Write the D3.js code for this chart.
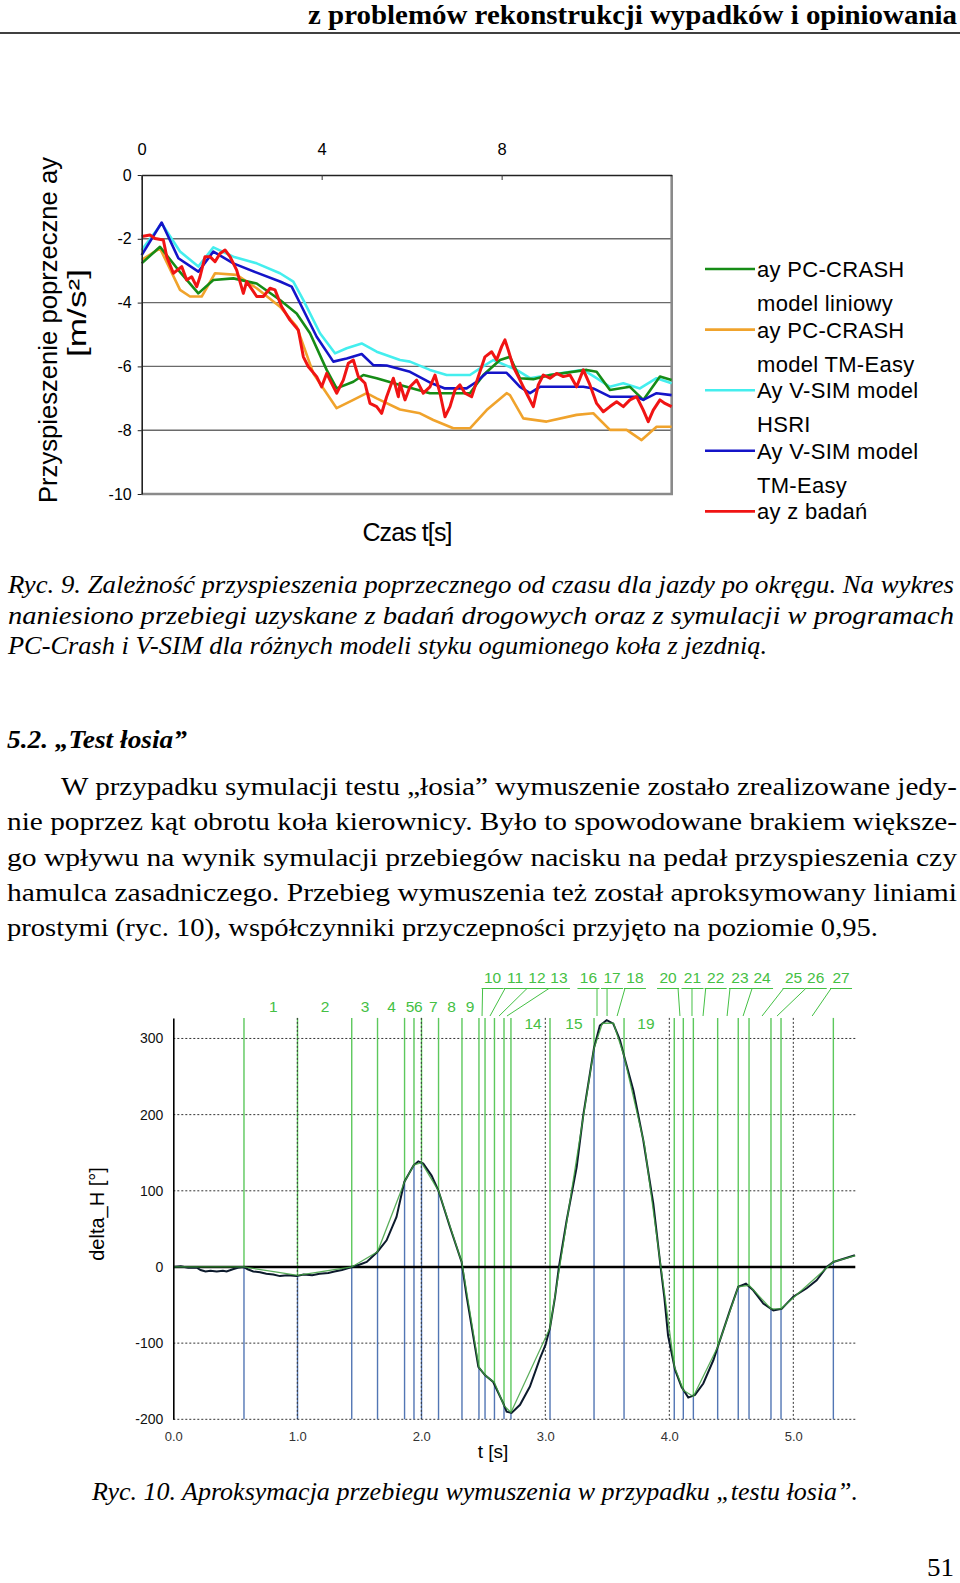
<!DOCTYPE html>
<html>
<head>
<meta charset="utf-8">
<script src="https://cdn.jsdelivr.net/npm/d3@7"></script>
<style>
  body { margin: 0; background: #fff; }
  svg { display: block; }
  .serif { font-family: "Liberation Serif", "Times New Roman", serif; }
  .sans { font-family: "Liberation Sans", Arial, sans-serif; }
</style>
</head>
<body>
<svg id="page" width="960" height="1583"></svg>
<script>
// ---------------- page text ----------------
const headerText = "z problemów rekonstrukcji wypadków i opiniowania"
const caption9 = [
    "Ryc. 9. Zależność przyspieszenia poprzecznego od czasu dla jazdy po okręgu. Na wykres",
    "naniesiono przebiegi uzyskane z badań drogowych oraz z symulacji w programach",
    "PC-Crash i V-SIM dla różnych modeli styku ogumionego koła z jezdnią."
]
const sectionTitle = "5.2. \u201ETest łosia\u201D"
const paragraph = [
    "W przypadku symulacji testu \u201Ełosia\u201D wymuszenie zostało zrealizowane jedy-",
    "nie poprzez kąt obrotu koła kierownicy. Było to spowodowane brakiem większe-",
    "go wpływu na wynik symulacji przebiegów nacisku na pedał przyspieszenia czy",
    "hamulca zasadniczego. Przebieg wymuszenia też został aproksymowany liniami",
    "prostymi (ryc. 10), współczynniki przyczepności przyjęto na poziomie 0,95."
]
const caption10 = "Ryc. 10. Aproksymacja przebiegu wymuszenia w przypadku \u201Etestu łosia\u201D."
const pageNumber = "51"

// ---------------- Ryc. 9 data: [t (s), ay (m/s2)] ----------------
const ayTicksX = [0, 4, 8]
const ayTicksY = [0, -2, -4, -6, -8, -10]

const ayPcLinear = [[0,-2.77],[0.407,-2.25],[0.815,-2.98],[1.259,-3.71],[1.593,-3.29],[2.037,-3.24],[2.556,-3.40],[3.074,-3.92],[3.444,-4.34],[3.741,-4.96],[4.111,-6.11],[4.333,-6.69],[4.704,-6.48],[4.926,-6.27],[5.222,-6.37],[5.741,-6.58],[6.407,-6.84],[7.296,-6.84],[7.593,-6.27],[7.963,-5.80],[8.185,-5.70],[8.407,-6.37],[8.704,-6.40],[9.074,-6.27],[9.889,-6.11],[10.111,-6.17],[10.407,-6.74],[10.852,-6.64],[11.148,-7.05],[11.519,-6.32],[11.778,-6.43]]

const ayPcTmEasy = [[0,-2.66],[0.407,-2.30],[0.852,-3.60],[1.074,-3.81],[1.333,-3.81],[1.630,-3.08],[2.111,-3.13],[2.556,-3.55],[3.074,-4.13],[3.444,-4.75],[3.815,-6.22],[4.333,-7.31],[4.704,-7.05],[5.0,-6.84],[5.222,-7.00],[5.741,-7.35],[6.185,-7.47],[6.481,-7.68],[6.926,-7.94],[7.296,-7.94],[7.667,-7.37],[8.111,-6.84],[8.185,-6.90],[8.481,-7.63],[9.0,-7.73],[9.667,-7.52],[10.037,-7.47],[10.407,-7.99],[10.778,-7.99],[11.111,-8.31],[11.444,-7.89],[11.778,-7.89]]

const ayVsimHsri = [[0,-2.35],[0.444,-1.52],[0.852,-2.40],[1.259,-2.87],[1.593,-2.27],[2.037,-2.56],[2.556,-2.77],[3.074,-3.08],[3.370,-3.34],[3.593,-3.92],[3.963,-4.96],[4.296,-5.59],[4.556,-5.43],[4.889,-5.28],[5.222,-5.54],[5.741,-5.80],[5.963,-5.85],[6.407,-6.11],[6.778,-6.27],[7.296,-6.27],[7.519,-6.06],[7.815,-5.80],[8.333,-6.11],[8.630,-6.37],[8.852,-6.32],[9.815,-6.11],[10.111,-6.37],[10.407,-6.64],[10.704,-6.53],[11.074,-6.69],[11.444,-6.37],[11.778,-6.53]]

const ayVsimTmEasy = [[0,-2.51],[0.444,-1.49],[0.815,-2.61],[1.259,-3.03],[1.593,-2.40],[2.037,-2.77],[2.556,-3.06],[3.074,-3.34],[3.333,-3.50],[3.519,-4.02],[3.889,-5.07],[4.259,-5.85],[4.556,-5.75],[4.889,-5.61],[5.148,-5.96],[5.444,-5.97],[5.963,-6.17],[6.444,-6.53],[6.741,-6.69],[7.222,-6.69],[7.444,-6.48],[7.667,-6.20],[8.111,-6.20],[8.407,-6.64],[8.630,-6.84],[8.852,-6.64],[9.815,-6.64],[10.037,-6.69],[10.407,-6.95],[11.0,-6.95],[11.148,-7.05],[11.444,-6.84],[11.778,-6.90]]

const ayMeasured = [[0,-1.93],[0.185,-1.88],[0.296,-1.99],[0.481,-2.04],[0.556,-2.56],[0.704,-3.08],[0.889,-2.87],[1.0,-3.29],[1.111,-3.19],[1.222,-3.50],[1.296,-3.19],[1.407,-2.56],[1.519,-2.56],[1.630,-2.72],[1.741,-2.46],[1.852,-2.35],[1.963,-2.56],[2.111,-2.98],[2.259,-3.71],[2.333,-3.34],[2.556,-3.81],[2.704,-3.81],[2.852,-3.55],[2.963,-3.60],[3.111,-4.13],[3.296,-4.55],[3.481,-4.86],[3.593,-5.70],[3.704,-6.01],[3.889,-6.32],[4.0,-6.64],[4.111,-6.22],[4.222,-6.53],[4.333,-6.84],[4.481,-6.43],[4.593,-5.90],[4.704,-5.80],[4.815,-6.32],[4.963,-6.53],[5.074,-7.16],[5.222,-7.26],[5.333,-7.47],[5.444,-6.95],[5.593,-6.37],[5.704,-6.95],[5.741,-6.53],[5.852,-7.05],[5.963,-6.64],[6.111,-6.43],[6.259,-6.84],[6.407,-6.64],[6.519,-6.27],[6.630,-6.84],[6.741,-7.58],[6.852,-7.26],[6.963,-6.74],[7.074,-6.58],[7.185,-6.84],[7.333,-6.95],[7.481,-6.32],[7.630,-5.70],[7.778,-5.54],[7.889,-5.80],[8.0,-5.38],[8.074,-5.17],[8.148,-5.49],[8.259,-6.01],[8.370,-6.32],[8.481,-6.64],[8.593,-6.95],[8.704,-7.26],[8.815,-6.58],[8.926,-6.27],[9.074,-6.37],[9.222,-6.22],[9.370,-6.32],[9.519,-6.27],[9.667,-6.64],[9.815,-6.11],[9.963,-6.58],[10.111,-7.16],[10.259,-7.42],[10.407,-7.26],[10.556,-7.11],[10.704,-7.26],[10.852,-7.05],[11.0,-6.95],[11.148,-7.37],[11.259,-7.73],[11.370,-7.37],[11.519,-7.05],[11.630,-7.16],[11.778,-7.26]]

// legend order
const aySeries = [
    { lines: ["ay PC-CRASH", "model liniowy"], color: "#168c16", data: ayPcLinear },
    { lines: ["ay PC-CRASH", "model TM-Easy"], color: "#f0a32c", data: ayPcTmEasy },
    { lines: ["Ay V-SIM model", "HSRI"], color: "#44eeee", data: ayVsimHsri },
    { lines: ["Ay V-SIM model", "TM-Easy"], color: "#1414c8", data: ayVsimTmEasy },
    { lines: ["ay z badań"], color: "#f01414", data: ayMeasured }
]
const drawOrder = [1, 2, 0, 3, 4]

// ---------------- Ryc. 10 data: [t (s), delta_H (deg)] ----------------
const dhTicksX = [0, 1, 2, 3, 4, 5]
const dhTicksY = [300, 200, 100, 0, -100, -200]

const dhMeasured = [[0,0],[0.06,1],[0.12,-1],[0.19,-1],[0.22,-4],[0.26,-6],[0.3,-5],[0.35,-6],[0.4,-5],[0.43,-6],[0.48,-3],[0.52,-1],[0.565,0],[0.6,-3],[0.645,-6],[0.7,-7],[0.75,-9],[0.806,-10],[0.86,-12],[0.92,-11],[0.995,-12],[1.05,-10],[1.12,-11],[1.18,-9],[1.25,-8],[1.3,-6],[1.36,-4],[1.44,0],[1.5,3],[1.56,6.6],[1.645,19.7],[1.72,35],[1.80,65.6],[1.863,111.6],[1.938,133.5],[1.976,138.7],[2.016,135.7],[2.083,120],[2.137,100.7],[2.231,52.5],[2.325,6.6],[2.366,-39],[2.46,-131],[2.513,-142],[2.58,-151],[2.661,-179],[2.688,-190],[2.728,-191.7],[2.796,-181],[2.876,-157],[2.957,-120],[3.0,-103],[3.038,-80],[3.078,-40],[3.11,0],[3.172,61],[3.253,131],[3.306,199],[3.36,254],[3.392,287],[3.44,317],[3.495,324],[3.548,319.5],[3.602,298],[3.637,276],[3.71,232],[3.79,166.5],[3.871,83],[3.93,0],[3.96,-40],[3.99,-90],[4.046,-135],[4.099,-157.5],[4.153,-171.5],[4.207,-168],[4.274,-153],[4.355,-122.5],[4.409,-96],[4.489,-57],[4.556,-26],[4.618,-22],[4.677,-30.6],[4.758,-48],[4.839,-57],[4.906,-55],[5.0,-39],[5.108,-28],[5.188,-17.5],[5.27,0],[5.323,6.6],[5.497,15.3]]

// nodes of the straight-line approximation
const dhApprox = [[0,0],[0.570,0],[1.002,-11],[1.439,0],[1.647,20],[1.865,112],[1.941,134],[2.002,137],[2.139,100],[2.328,5],[2.465,-132],[2.514,-142],[2.590,-152],[2.667,-182],[2.723,-191],[3.038,-80],[3.393,287],[3.46,320],[3.55,320],[3.635,277],[3.80,160],[4.040,-130],[4.113,-162],[4.194,-170],[4.390,-105],[4.556,-26],[4.643,-24],[4.820,-55],[4.901,-55],[5.323,6.6],[5.5,15]]
// nodes whose vertical marker is not visible on the original
const hiddenNodeT = [0, 3.46, 3.55, 3.80, 5.5]

// segment numbers: row 1 has leader lines (label position t, leader target t)
const segRow1 = [["10",2.575,2.490],["11",2.756,2.554],["12",2.933,2.627],["13",3.11,2.691],["16",3.348,3.417],["17",3.538,3.498],["18",3.723,3.579],["20",3.990,4.086],["21",4.187,4.183],["22",4.374,4.272],["23",4.570,4.466],["24",4.748,4.595],["25",5.002,4.748],["26",5.181,4.869],["27",5.385,5.152]]
const segRow2 = [["1",0.806],["2",1.223],["3",1.546],["4",1.761],["5",1.909],["6",1.976],["7",2.097],["8",2.245],["9",2.393]]
const segRow3 = [["14",2.901],["15",3.231],["19",3.812]]

const svg = d3.select("#page")
svg.append("rect").attr("width", 960).attr("height", 1583).attr("fill", "#fff")

// ---------------- page header and text ----------------
svg.append("text").attr("class", "serif")
    .attr("x", 957).attr("y", 24).attr("text-anchor", "end")
    .attr("font-size", 28).attr("font-weight", "bold")
    .attr("textLength", 649).attr("lengthAdjust", "spacingAndGlyphs")
    .text(headerText)
svg.append("line").attr("x1", 0).attr("x2", 960).attr("y1", 33).attr("y2", 33)
    .attr("stroke", "#000").attr("stroke-width", 1.6)

const addLine = (str, x, y, width, opts) => {
    let t = svg.append("text").attr("class", "serif")
        .attr("x", x).attr("y", y).attr("font-size", opts.size || 25)
        .text(str)
    if (opts.italic) t.attr("font-style", "italic")
    if (opts.bold) t.attr("font-weight", "bold")
    if (width) t.attr("textLength", width).attr("lengthAdjust", "spacingAndGlyphs")
    return t
}

const cap9Widths = [946, 946, 759]
caption9.forEach((s, i) => addLine(s, 8, 593 + i * 30.5, cap9Widths[i], { italic: true, size: 25 }))

addLine(sectionTitle, 7, 748, 180, { italic: true, bold: true, size: 25 })

const parX = [61, 7, 7, 7, 7]
const parW = [896, 950, 950, 950, 871]
paragraph.forEach((s, i) => addLine(s, parX[i], 795 + i * 35.3, parW[i], { size: 26 }))

addLine(caption10, 92, 1500, 766, { italic: true, size: 25 })
addLine(pageNumber, 927, 1576, 27, { size: 25 })

// ---------------- Ryc. 9 chart ----------------
const ayX = d3.scaleLinear().domain([0, 11.78]).range([141.7, 671.7])
const ayY = d3.scaleLinear().domain([-10, 0]).range([494, 175])

const g9 = svg.append("g").attr("class", "sans")

// horizontal grid
g9.selectAll("line.grid").data(ayTicksY.filter(d => d < 0 && d > -10)).join("line")
    .attr("class", "grid")
    .attr("x1", ayX(0)).attr("x2", ayX(11.78))
    .attr("y1", d => ayY(d)).attr("y2", d => ayY(d))
    .attr("stroke", "#6a6a6a").attr("stroke-width", 1.4)

// right and bottom frame (gray)
g9.append("path")
    .attr("d", `M${ayX(0)},${ayY(-10)}H${ayX(11.78)}V${ayY(0)}`)
    .attr("fill", "none").attr("stroke", "#8a8a8a").attr("stroke-width", 2.6)

const ayLine = d3.line().x(d => ayX(d[0])).y(d => ayY(d[1]))
drawOrder.forEach(i => {
    const s = aySeries[i]
    g9.append("path").datum(s.data)
        .attr("d", ayLine)
        .attr("fill", "none")
        .attr("stroke", s.color)
        .attr("stroke-width", i === 4 ? 3 : 2.6)
        .attr("stroke-linejoin", "round")
})

// top axis (time labels 0 4 8)
const topAxis = g9.append("g").attr("transform", `translate(0,${ayY(0)})`)
    .call(d3.axisTop(ayX).tickValues(ayTicksX).tickSizeInner(-5).tickSizeOuter(0)
        .tickPadding(20).tickFormat(d => String(d)))
topAxis.selectAll("text").attr("font-size", 16.5).attr("fill", "#000").attr("font-family", "Liberation Sans, Arial")
topAxis.selectAll("line").attr("stroke", "#333")
topAxis.select(".domain").attr("stroke", "#222").attr("stroke-width", 1.6)

// left axis
const leftAxis = g9.append("g").attr("transform", `translate(${ayX(0)},0)`)
    .call(d3.axisLeft(ayY).tickValues(ayTicksY).tickSizeInner(4).tickSizeOuter(0)
        .tickPadding(6).tickFormat(d => String(d)))
leftAxis.selectAll("text").attr("font-size", 16).attr("fill", "#000").attr("font-family", "Liberation Sans, Arial")
leftAxis.selectAll("line").attr("stroke", "#222")
leftAxis.select(".domain").attr("stroke", "#222").attr("stroke-width", 1.6)

// axis titles
g9.append("text").attr("transform", "translate(57,330) rotate(-90)")
    .attr("text-anchor", "middle").attr("font-size", 25)
    .attr("textLength", 346).attr("lengthAdjust", "spacingAndGlyphs")
    .text("Przyspieszenie poprzeczne ay")
g9.append("text").attr("transform", "translate(86,313) rotate(-90)")
    .attr("text-anchor", "middle").attr("font-size", 25)
    .attr("textLength", 88).attr("lengthAdjust", "spacingAndGlyphs")
    .text("[m/s\u00B2]")
g9.append("text").attr("x", 407).attr("y", 541).attr("text-anchor", "middle")
    .attr("font-size", 25).attr("letter-spacing", -0.9).text("Czas t[s]")

// legend (entry text wraps onto a second line, as in the original)
aySeries.forEach((s, i) => {
    const cy = 269 + i * 60.6
    g9.append("line").attr("x1", 705).attr("x2", 755).attr("y1", cy).attr("y2", cy)
        .attr("stroke", s.color).attr("stroke-width", 2.6)
    s.lines.forEach((ln, j) => {
        g9.append("text").attr("x", 757).attr("y", cy + 8 + j * 34)
            .attr("font-size", 22).attr("letter-spacing", 0.3).text(ln)
    })
})

// ---------------- Ryc. 10 chart ----------------
const dhX = d3.scaleLinear().domain([0, 5.5]).range([173.3, 855.3])
const dhY = d3.scaleLinear().domain([-200, 327]).range([1419.3, 1017.9])
const g10 = svg.append("g").attr("class", "sans")

// dotted horizontal grid
g10.selectAll("line.hgrid").data(dhTicksY.filter(d => d !== 0)).join("line")
    .attr("class", "hgrid")
    .attr("x1", dhX(0)).attr("x2", dhX(5.5))
    .attr("y1", d => dhY(d)).attr("y2", d => dhY(d))
    .attr("stroke", "#333").attr("stroke-width", 1).attr("stroke-dasharray", "2,2")

// vertical markers at the approximation nodes: green above the curve, blue below
const markers = dhApprox.filter(d => !hiddenNodeT.includes(d[0]))
g10.selectAll("line.mk-up").data(markers).join("line")
    .attr("class", "mk-up")
    .attr("x1", d => dhX(d[0])).attr("x2", d => dhX(d[0]))
    .attr("y1", dhY(327)).attr("y2", d => dhY(d[1]))
    .attr("stroke", "#5cc85c").attr("stroke-width", 1.4)
g10.selectAll("line.mk-dn").data(markers).join("line")
    .attr("class", "mk-dn")
    .attr("x1", d => dhX(d[0])).attr("x2", d => dhX(d[0]))
    .attr("y1", d => dhY(d[1])).attr("y2", dhY(-200))
    .attr("stroke", "#5276b4").attr("stroke-width", 1.4)

// dotted vertical grid
g10.selectAll("line.vgrid").data(dhTicksX.filter(d => d > 0)).join("line")
    .attr("class", "vgrid")
    .attr("x1", d => dhX(d)).attr("x2", d => dhX(d))
    .attr("y1", dhY(327)).attr("y2", dhY(-200))
    .attr("stroke", "#333").attr("stroke-width", 1).attr("stroke-dasharray", "2,2")

// zero line
g10.append("line").attr("x1", dhX(0)).attr("x2", dhX(5.5))
    .attr("y1", dhY(0)).attr("y2", dhY(0))
    .attr("stroke", "#000").attr("stroke-width", 2.6)

const dhLine = d3.line().x(d => dhX(d[0])).y(d => dhY(d[1]))
g10.append("path").datum(dhMeasured).attr("d", dhLine)
    .attr("fill", "none").attr("stroke", "#0c1a2c").attr("stroke-width", 2)
g10.append("path").datum(dhApprox).attr("d", dhLine)
    .attr("fill", "none").attr("stroke", "#3ea03e").attr("stroke-width", 1.3).attr("opacity", 0.85)

// axes
const dhLeft = g10.append("g").attr("transform", `translate(${dhX(0)},0)`)
    .call(d3.axisLeft(dhY).tickValues(dhTicksY).tickSize(0).tickPadding(10).tickFormat(d => String(d)))
dhLeft.selectAll("text").attr("font-size", 14).attr("fill", "#111").attr("font-family", "Liberation Sans, Arial")
dhLeft.select(".domain").attr("stroke", "#000").attr("stroke-width", 1.6)

const dhBottom = g10.append("g").attr("transform", `translate(0,${dhY(-200)})`)
    .call(d3.axisBottom(dhX).tickValues(dhTicksX).tickSize(0).tickPadding(12).tickFormat(d3.format(".1f")))
dhBottom.selectAll("text").attr("font-size", 13).attr("fill", "#333").attr("font-family", "Liberation Sans, Arial")
dhBottom.select(".domain").remove()

g10.append("text").attr("transform", "translate(104,1214) rotate(-90)")
    .attr("text-anchor", "middle").attr("font-size", 20).text("delta_H [\u00B0]")
g10.append("text").attr("x", 493).attr("y", 1458).attr("text-anchor", "middle")
    .attr("font-size", 19).text("t [s]")

// segment numbers
const segColor = "#44c044"
g10.selectAll("text.row2").data(segRow2).join("text")
    .attr("class", "row2")
    .attr("x", d => dhX(d[1])).attr("y", 1011.5).attr("text-anchor", "middle")
    .attr("font-size", 15.5).attr("fill", segColor).text(d => d[0])
g10.selectAll("text.row3").data(segRow3).join("text")
    .attr("class", "row3")
    .attr("x", d => dhX(d[1])).attr("y", 1029).attr("text-anchor", "middle")
    .attr("font-size", 15.5).attr("fill", segColor).text(d => d[0])
g10.selectAll("text.row1").data(segRow1).join("text")
    .attr("class", "row1")
    .attr("x", d => dhX(d[1])).attr("y", 983).attr("text-anchor", "middle")
    .attr("font-size", 15.5).attr("fill", segColor).text(d => d[0])
g10.selectAll("line.under").data(segRow1).join("line")
    .attr("class", "under")
    .attr("x1", d => dhX(d[1]) - 11).attr("x2", d => dhX(d[1]) + 11)
    .attr("y1", 988.5).attr("y2", 988.5)
    .attr("stroke", segColor).attr("stroke-width", 1)
g10.selectAll("line.leader").data(segRow1).join("line")
    .attr("class", "leader")
    .attr("x1", d => dhX(d[1]) + Math.max(-10, Math.min(10, dhX(d[2]) - dhX(d[1]))))
    .attr("x2", d => dhX(d[2]))
    .attr("y1", 988.5).attr("y2", 1016)
    .attr("stroke", segColor).attr("stroke-width", 1)
</script>
</body>
</html>
